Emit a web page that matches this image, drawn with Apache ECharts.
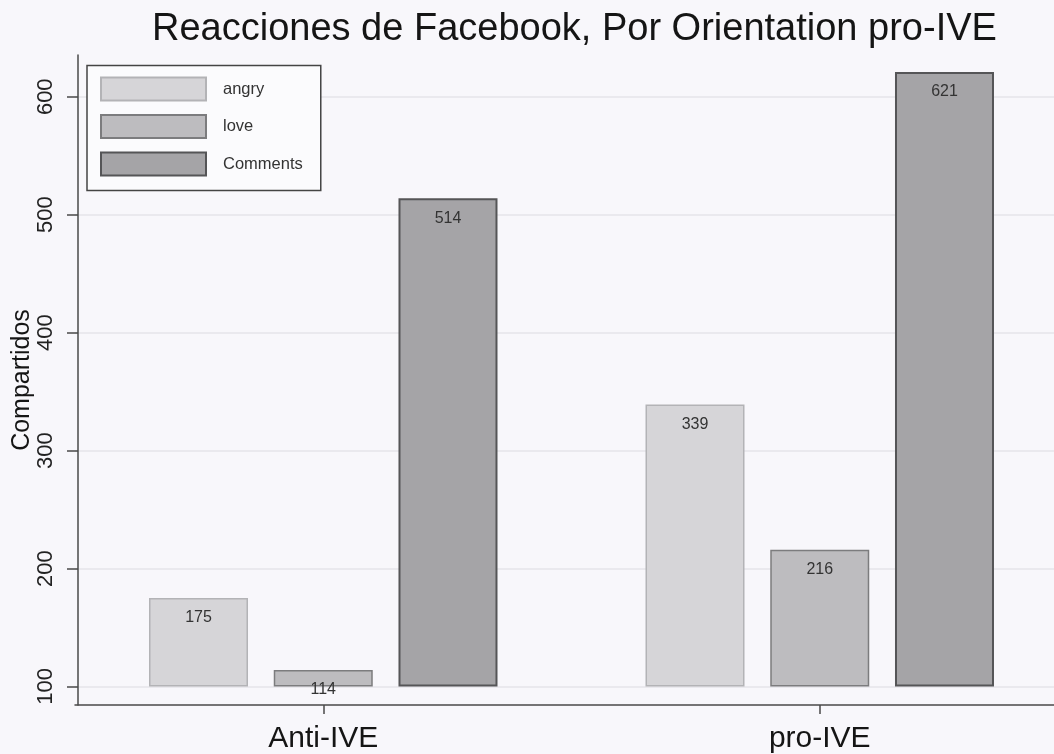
<!DOCTYPE html>
<html>
<head>
<meta charset="utf-8">
<script src="https://cdn.jsdelivr.net/npm/echarts@6/dist/echarts.min.js"></script>
<style>
html,body{margin:0;padding:0;background:#f8f7fb;overflow:hidden;}
#chart{width:1080px;height:754px;}
</style>
</head>
<body>
<div id="chart"></div>
<script>
const categories = ['Anti-IVE', 'pro-IVE'];
const seriesNames = ['angry', 'love', 'Comments'];
const angryValues = [175, 339];
const loveValues = [114, 216];
const commentsValues = [514, 621];
const yTickValues = [100, 200, 300, 400, 500, 600];

const FONT = '"Liberation Sans", Arial, sans-serif';
const styles = [
  { fill: '#d6d5d8', border: '#b3b3b6', bw: 1.5 },
  { fill: '#bdbcbf', border: '#7c7c7e', bw: 1.5 },
  { fill: '#a5a4a7', border: '#555557', bw: 2 }
];
const dataSets = [angryValues, loveValues, commentsValues];

const chart = echarts.init(document.getElementById('chart'), null, { renderer: 'canvas' });

const series = seriesNames.map((name, i) => ({
  name: name,
  type: 'bar',
  data: dataSets[i],
  barWidth: 99,
  barGap: '26%',
  itemStyle: { color: styles[i].fill, borderColor: styles[i].border, borderWidth: styles[i].bw },
  label: {
    show: true,
    position: 'insideTop',
    distance: 12,
    fontFamily: FONT,
    fontSize: 16,
    color: '#333'
  }
}));

chart.setOption({
  backgroundColor: '#f8f7fb',
  animation: false,
  title: {
    text: 'Reacciones de Facebook, Por Orientation pro-IVE',
    left: 152,
    top: 11,
    padding: 0,
    textStyle: { fontFamily: FONT, fontSize: 38, fontWeight: 'normal', color: '#151515' }
  },
  legend: {
    orient: 'vertical',
    left: 87,
    top: 65.5,
    padding: [11, 18, 14, 13],
    itemWidth: 105,
    itemHeight: 23,
    itemGap: 12.5,
    icon: 'rect',
    backgroundColor: '#fbfbfd',
    borderColor: '#444',
    borderWidth: 1.5,
    textStyle: { fontFamily: FONT, fontSize: 16.5, color: '#333', padding: [0, 0, 0, 12] },
    data: seriesNames
  },
  grid: { left: 75, right: 12, top: 55, bottom: 49, containLabel: false },
  xAxis: {
    type: 'category',
    data: categories,
    axisLine: { show: true, onZero: false, lineStyle: { color: '#4a4a4a', width: 1.5 } },
    axisTick: { show: true, alignWithLabel: true, length: 9, lineStyle: { color: '#4a4a4a', width: 1.5 } },
    axisLabel: { fontFamily: FONT, fontSize: 30, color: '#151515', margin: 19 },
    splitLine: { show: false }
  },
  yAxis: {
    type: 'value',
    min: 84.3,
    max: 635.4,
    startValue: 100,
    offset: -3,
    name: 'Compartidos',
    nameLocation: 'middle',
    nameGap: 43,
    nameMoveOverlap: false,
    nameTextStyle: { fontFamily: FONT, fontSize: 25, color: '#151515' },
    axisLine: { show: true, lineStyle: { color: '#4a4a4a', width: 1.5 } },
    axisTick: { show: true, length: 11, customValues: yTickValues, lineStyle: { color: '#4a4a4a', width: 1.5 } },
    axisLabel: { rotate: 90, fontFamily: FONT, fontSize: 22, color: '#222', margin: 21, customValues: yTickValues },
    splitLine: { show: true, lineStyle: { color: '#e6e5ea', width: 1.5 } }
  },
  series: series
});
</script>
</body>
</html>
